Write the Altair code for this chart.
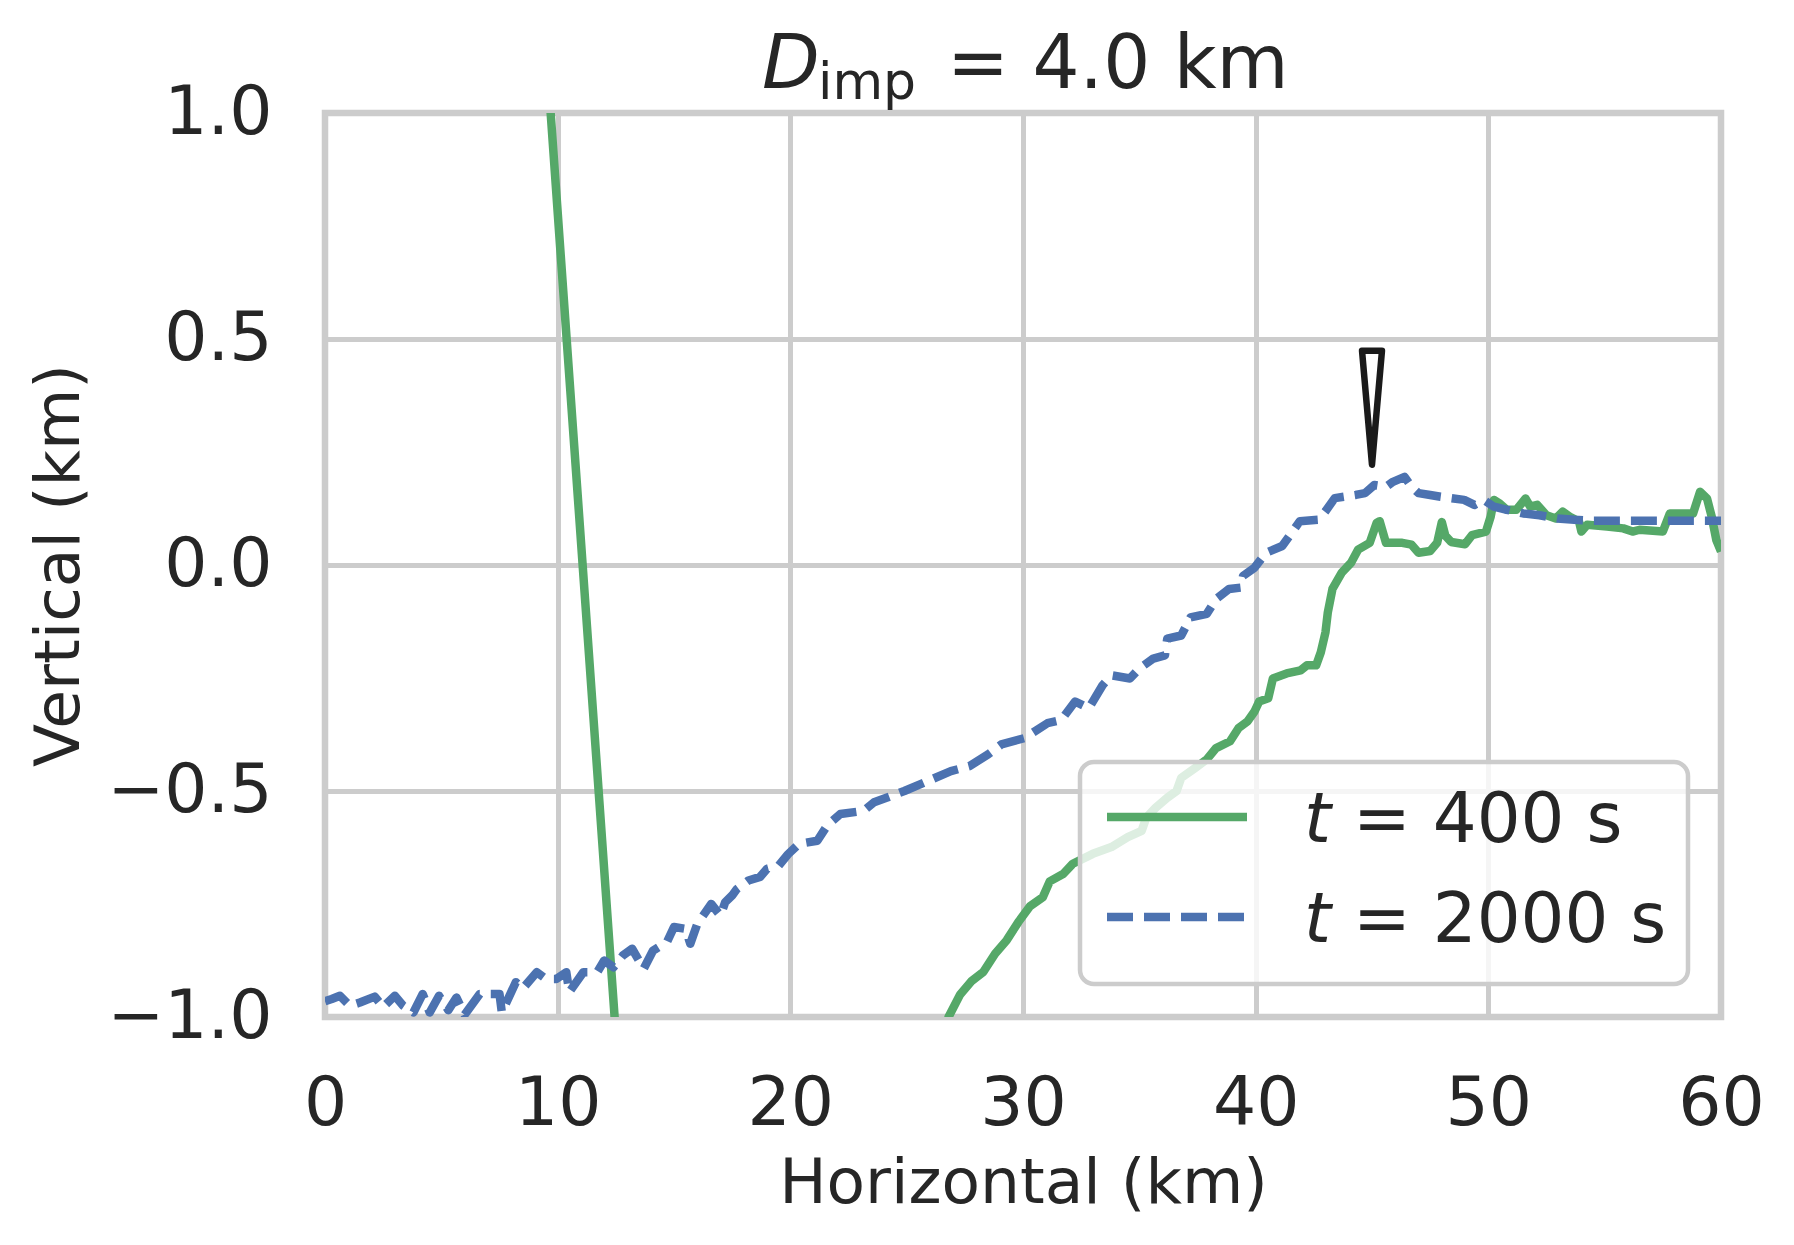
import altair as alt
import pandas as pd

# ---------------- data ----------------
green_x = [9.3, 12.75, 14.0, 20.0, 26.3, 26.8, 27.3, 27.8, 28.3, 28.8, 29.3, 29.8, 30.3,
           30.85, 31.15, 31.74, 32.14, 33.0, 33.8, 34.5, 35.1, 35.3, 35.7, 36.2, 36.6,
           36.8, 37.4, 37.9, 38.3, 38.9, 39.26, 39.65, 39.95, 40.15, 40.54, 40.74, 41.33,
           41.93, 42.2, 42.6, 42.8, 43.0, 43.1, 43.3, 43.7, 44.1, 44.4, 44.9, 45.2, 45.33,
           45.6, 46.3, 46.7, 47.0, 47.5, 47.8, 48.0, 48.15, 48.4, 49.0, 49.3, 49.9, 50.1,
           50.24, 50.46, 50.8, 51.2, 51.6, 51.8, 52.1, 52.5, 52.9, 53.2, 53.5, 53.9, 54.0,
           54.25, 55.1, 55.8, 56.2, 56.5, 57.5, 57.8, 58.25, 58.8, 59.1, 59.4, 59.6, 59.8,
           60.0]
green_y = [1.29, -1.22, -1.6, -1.8, -1.25, -1.0, -0.95, -0.92, -0.90, -0.86, -0.83, -0.79,
           -0.755, -0.735, -0.70, -0.683, -0.661, -0.639, -0.624, -0.602, -0.588, -0.559,
           -0.537, -0.515, -0.50, -0.471, -0.449, -0.43, -0.405, -0.39, -0.361, -0.346,
           -0.324, -0.302, -0.295, -0.251, -0.24, -0.233, -0.222, -0.222, -0.193, -0.149,
           -0.105, -0.053, -0.017, 0.005, 0.034, 0.049, 0.093, 0.097, 0.049, 0.049, 0.045,
           0.027, 0.031, 0.049, 0.095, 0.065, 0.051, 0.046, 0.066, 0.074, 0.107, 0.144,
           0.137, 0.122, 0.122, 0.147, 0.129, 0.133, 0.11, 0.103, 0.118, 0.107, 0.096,
           0.074, 0.089, 0.085, 0.081, 0.074, 0.078, 0.074, 0.114, 0.114, 0.114, 0.162,
           0.147, 0.107, 0.055, 0.03]

blue_x = [0.0, 0.29, 0.64, 1.07, 1.5, 2.14, 2.5, 3.0, 3.36, 3.8, 4.2, 4.5, 4.9, 5.3, 5.65,
          6.0, 6.65, 7.5, 7.6, 8.2, 8.5, 9.1, 9.5, 9.94, 10.37, 10.5, 11.1, 11.7, 12.0,
          12.4, 12.8, 13.2, 13.7, 14.1, 14.7, 15.0, 15.5, 15.7, 16.0, 16.6, 17.0, 17.2,
          17.5, 17.7, 18.2, 18.7, 19.0, 19.5, 19.9, 20.37, 21.16, 21.6, 22.15, 23.14,
          23.6, 24.13, 24.9, 25.9, 26.9, 27.7, 28.5, 29.07, 30.06, 31.05, 31.64, 32.24,
          32.83, 33.42, 33.8, 34.6, 35.0, 35.6, 36.1, 36.2, 36.8, 37.2, 37.9, 38.3, 38.86,
          39.36, 39.46, 39.95, 40.45, 41.14, 41.6, 41.9, 42.7, 43.0, 43.4, 44.3, 44.7,
          45.1, 45.6, 45.9, 46.4, 46.7, 47.0, 47.5, 47.95, 48.96, 49.4, 49.8, 50.24, 50.8,
          51.5, 52.2, 52.96, 53.7, 54.4, 56.5, 58.0, 60.0]
blue_y = [-0.965, -0.96, -0.953, -0.975, -0.968, -0.955, -0.978, -0.953, -0.975, -0.99,
          -0.949, -0.99, -0.953, -0.985, -0.957, -0.995, -0.949, -0.949, -0.99, -0.923,
          -0.937, -0.901, -0.916, -0.916, -0.901, -0.945, -0.901, -0.901, -0.875, -0.89,
          -0.864, -0.849, -0.893, -0.853, -0.834, -0.801, -0.805, -0.838, -0.794, -0.75,
          -0.776, -0.746, -0.731, -0.717, -0.698, -0.69, -0.672, -0.665, -0.64, -0.617,
          -0.61, -0.575, -0.551, -0.544, -0.525, -0.515, -0.5, -0.478, -0.456, -0.445,
          -0.419, -0.397, -0.383, -0.35, -0.343, -0.302, -0.317, -0.266, -0.244, -0.251,
          -0.229, -0.207, -0.2, -0.163, -0.156, -0.116, -0.108, -0.075, -0.053, -0.05,
          -0.024, -0.006, 0.027, 0.042, 0.075, 0.097, 0.1, 0.119, 0.148, 0.155, 0.159,
          0.177, 0.173, 0.184, 0.195, 0.173, 0.159, 0.155, 0.151, 0.144, 0.133, 0.144,
          0.129, 0.122, 0.114, 0.11, 0.103, 0.1, 0.098, 0.098, 0.098, 0.098]

marker_x = [45.0]
marker_y = [0.348]

x_ticks = [0, 10, 20, 30, 40, 50, 60]
y_ticks = [-1.0, -0.5, 0.0, 0.5, 1.0]

series_labels = ["= 400 s", "= 2000 s"]

GREEN = "#55a868"
BLUE = "#4c72b0"
TXT = "#262626"
FONT = "DejaVu Sans"
W, H = 1396, 904
LW = 8.5
DASH = [26, 11]

green_df = pd.DataFrame({"x": green_x, "y": green_y, "i": range(len(green_x))})
blue_df = pd.DataFrame({"x": blue_x, "y": blue_y, "i": range(len(blue_x))})
marker_df = pd.DataFrame({"x": marker_x, "y": marker_y})
one = pd.DataFrame({"k": [0]})

xscale = alt.Scale(domain=[0, 60], nice=False, zero=False)
yscale = alt.Scale(domain=[-1, 1], nice=False, zero=False)

xenc = alt.X("x:Q", scale=xscale,
             axis=alt.Axis(values=x_ticks, format="d", title="Horizontal (km)",
                           titlePadding=14))
yenc = alt.Y("y:Q", scale=yscale,
             axis=alt.Axis(values=y_ticks, format=".1f", title="Vertical (km)",
                           titlePadding=34))

green_line = alt.Chart(green_df).mark_line(
    color=GREEN, strokeWidth=LW, clip=True, strokeJoin="round"
).encode(x=xenc, y=yenc, order="i:Q")

blue_line = alt.Chart(blue_df).mark_line(
    color=BLUE, strokeWidth=LW, clip=True, strokeDash=DASH, strokeCap="butt",
    strokeJoin="round"
).encode(x="x:Q", y="y:Q", order="i:Q")

marker = alt.Chart(marker_df).mark_point(
    shape="M -0.175 -1 L 0.175 -1 L 0 1 Z", size=12996, filled=False,
    stroke="#1a1a1a", strokeWidth=6.5, strokeJoin="round", opacity=1
).encode(x="x:Q", y="y:Q")

# legend (drawn by hand to get the italic t)
leg_box = alt.Chart(one).mark_rect(
    fill="white", fillOpacity=0.8, stroke="#cccccc", strokeWidth=4.5, cornerRadius=14
).encode(x=alt.value(755), x2=alt.value(1363), y=alt.value(649), y2=alt.value(871))

leg_green = alt.Chart(one).mark_rule(color=GREEN, strokeWidth=LW).encode(
    x=alt.value(782), x2=alt.value(922), y=alt.value(704))
leg_blue = alt.Chart(one).mark_rule(color=BLUE, strokeWidth=LW,
                                    strokeDash=DASH).encode(
    x=alt.value(782), x2=alt.value(922), y=alt.value(804))

def txt(s, x, y, size, style="normal"):
    return alt.Chart(one).mark_text(
        text=s, font=FONT, fontSize=size, fontStyle=style, color=TXT,
        align="left", baseline="alphabetic"
    ).encode(x=alt.value(x), y=alt.value(y))

leg_t1 = txt("t", 979, 729, 69, "italic")
leg_l1 = txt(series_labels[0], 1028, 729, 69)
leg_t2 = txt("t", 979, 829, 69, "italic")
leg_l2 = txt(series_labels[1], 1028, 829, 69)

title_D = txt("D", 437, -25, 75, "italic")
title_sub = txt("imp", 493, -14, 52)
title_rest = txt("= 4.0 km", 622, -25, 74)

chart = alt.layer(
    green_line, blue_line, marker,
    leg_box, leg_green, leg_blue, leg_t1, leg_l1, leg_t2, leg_l2,
    title_D, title_sub, title_rest
).properties(
    width=W, height=H,
    autosize=alt.AutoSizeParams(type="none"),
    padding={"left": 317, "top": 105, "right": 60, "bottom": 200},
    background="white"
).configure_view(
    stroke="#cccccc", strokeWidth=6.5
).configure_axis(
    labelFont=FONT, labelFontSize=68, labelColor=TXT, labelPadding=53,
    titleFont=FONT, titleFontSize=63, titleFontWeight="normal", titleColor=TXT,
    domain=False, ticks=False, tickSize=0,
    grid=True, gridColor="#cccccc", gridWidth=5, gridOpacity=1,
    labelFlush=False, labelOverlap=False, labelBound=False
)

chart.save("out.html", embed_options={"renderer": "svg", "actions": False})
